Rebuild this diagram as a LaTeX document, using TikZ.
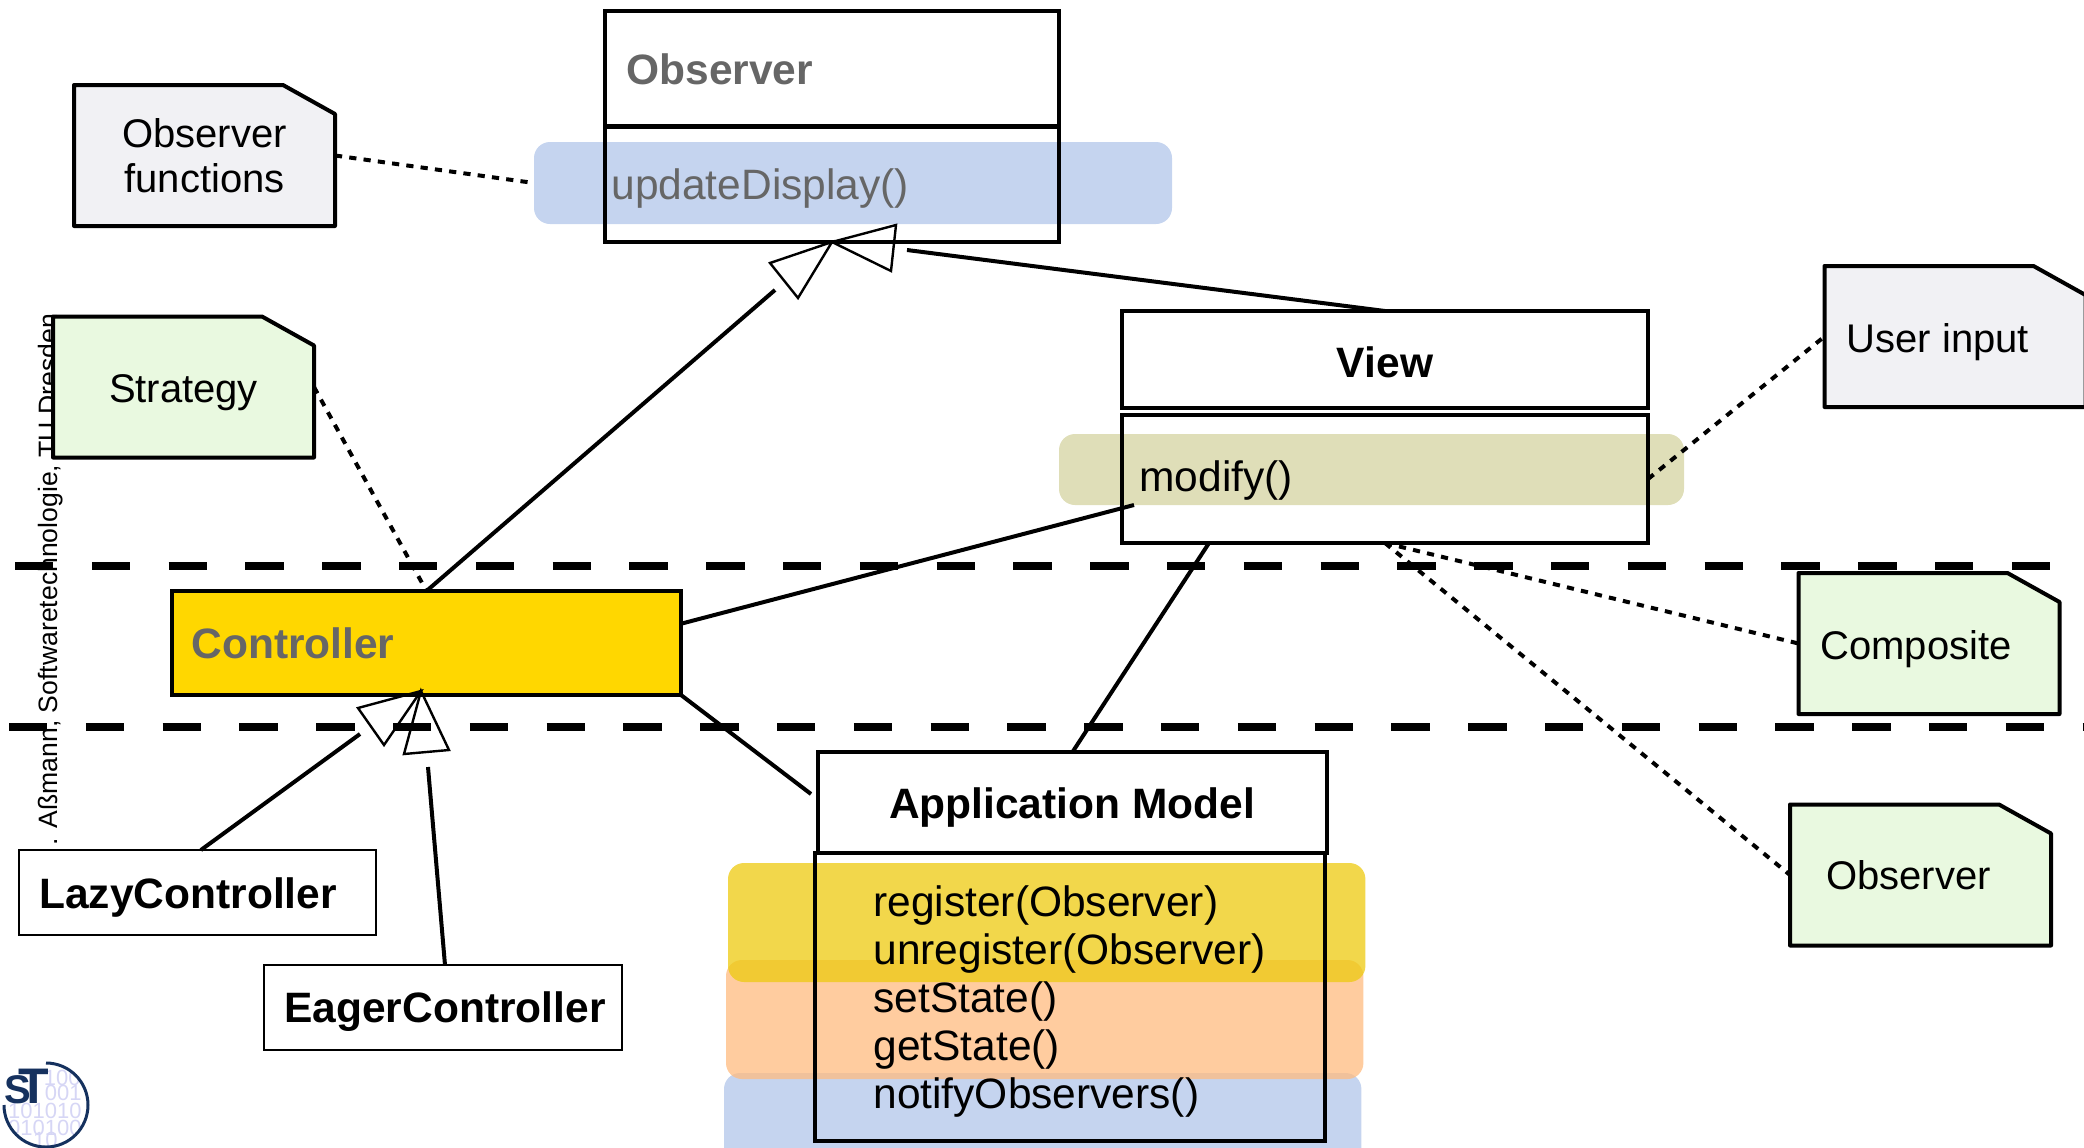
\documentclass[tikz,border=0pt]{standalone}
\usepackage{fontspec}
\setmainfont{Liberation Sans}
\usetikzlibrary{calc}
\definecolor{hlblue}{HTML}{C5D4EF}
\definecolor{hlolive}{HTML}{DFDEB8}
\definecolor{hlorange}{HTML}{FFBB7F}
\definecolor{hlyellow}{HTML}{EDCA0F}
\definecolor{notegray}{HTML}{F1F1F4}
\definecolor{notegreen}{HTML}{E9F9E0}
\definecolor{ctrlgold}{HTML}{FFD700}
\definecolor{textgray}{HTML}{666666}
\definecolor{logonavy}{HTML}{15315E}
\definecolor{logodigit}{HTML}{D6D6F5}
\tikzstyle{umlbox} = [rectangle, anchor=north west, inner sep=0pt, outer sep=0pt, draw=black, line width=2pt]
\tikzstyle{thinbox} = [umlbox, line width=1.4pt]
\tikzstyle{highlight} = [rectangle, anchor=north west, inner sep=0pt, outer sep=0pt, rounded corners=8pt]
\tikzstyle{boldtext} = [anchor=base west, inner sep=0pt, font=\fontsize{21.25}{24}\selectfont\bfseries]
\tikzstyle{methodtext} = [anchor=base west, inner sep=0pt, font=\fontsize{21.25}{24}\selectfont]
\tikzstyle{noteshape} = [rectangle, inner sep=0pt, outer sep=0pt, minimum width=130.5pt, minimum height=70.5pt]
\tikzstyle{notetext} = [align=center, inner sep=0pt, font=\fontsize{20}{22.5}\selectfont]
\tikzstyle{noteline} = [line width=2pt, line join=round]
\tikzstyle{solidline} = [line width=2pt]
\tikzstyle{dottedline} = [line width=2pt, dash pattern=on 3.6pt off 3.6pt]
\tikzstyle{layerline} = [line width=3.7pt, dash pattern=on 19.2pt off 19.2pt]
\tikzstyle{hollowtip} = [line width=1.2pt, line join=miter]
\tikzstyle{digit} = [inner sep=0pt, text=logodigit, font=\fontsize{11}{12}\selectfont]
\newcommand{\notebox}[5]{
  \node (#1) [noteshape] at (#2) {};
  \draw [noteline, fill=#3] (#1.south west) -- (#1.south east) -- ([yshift=-14.5pt]#1.north east) -- ([xshift=-26pt]#1.north east) -- (#1.north west) -- cycle;
  \node (#1text) [notetext, #4] at (#1) {#5};
}
\begin{document}
\begin{tikzpicture}[x=0.5pt, y=-0.5pt]
  \useasboundingbox (0,0) rectangle (2084,1147);
  % highlights behind the classes
  \node (obshl) [highlight, fill=hlblue, minimum width=319pt, minimum height=41pt] at (534,142) {};
  \node (viewhl) [highlight, fill=hlolive, minimum width=312.5pt, minimum height=35.5pt] at (1059,434) {};
  \node (notifyhl) [highlight, fill=hlblue, minimum width=318.7pt, minimum height=60pt] at (724,1073) {};
  \node (statehl) [highlight, fill=hlorange, fill opacity=0.75, minimum width=318.7pt, minimum height=59.5pt] at (726,960) {};
  \node (reghl) [highlight, fill=hlyellow, fill opacity=0.75, minimum width=318.7pt, minimum height=59.5pt] at (728,863) {};
  % side text
  \node (sidetext) [anchor=base west, inner sep=0pt, rotate=90, font=\fontsize{13.3}{15}\selectfont] at (57,846) {. Aßmann, Softwaretechnologie, TU Dresden};
  % classes
  \node (obstitle) [umlbox, minimum width=227pt, minimum height=57.5pt] at (605,11) {};
  \node (obsmethods) [umlbox, minimum width=227pt, minimum height=57.5pt] at (605,127) {};
  \node (obsname) [boldtext, text=textgray] at (626,84) {Observer};
  \node (obsupdate) [methodtext, text=textgray] at (611,199) {updateDisplay()};
  \node (viewtitle) [umlbox, minimum width=263pt, minimum height=48.5pt] at (1122,311) {};
  \node (viewmethods) [umlbox, minimum width=263pt, minimum height=64pt] at (1122,415) {};
  \node (viewname) [boldtext, anchor=base] at (1385,377) {View};
  \node (viewmodify) [methodtext] at (1139,491) {modify()};
  \node (controller) [umlbox, fill=ctrlgold, minimum width=254.5pt, minimum height=52pt] at (172,591) {};
  \node (ctrlname) [boldtext, text=textgray] at (191,658) {Controller};
  \node (apptitle) [umlbox, minimum width=254.5pt, minimum height=50.5pt] at (818,752) {};
  \node (appmethods) [umlbox, minimum width=255pt, minimum height=144pt] at (815,853) {};
  \node (appname) [boldtext, anchor=base] at (1072,818) {Application Model};
  \node (appregister) [methodtext] at (873,916) {register(Observer)};
  \node (appunregister) [methodtext] at (873,964) {unregister(Observer)};
  \node (appset) [methodtext] at (873,1012) {setState()};
  \node (appget) [methodtext] at (873,1060) {getState()};
  \node (appnotify) [methodtext] at (873,1108) {notifyObservers()};
  \node (lazy) [thinbox, minimum width=178.5pt, minimum height=42.5pt] at (19,850) {};
  \node (lazyname) [boldtext] at (39,908) {LazyController};
  \node (eager) [thinbox, minimum width=179pt, minimum height=42.5pt] at (264,965) {};
  \node (eagername) [boldtext] at (284,1022) {EagerController};
  % notes
  \notebox{obsnote}{204.5,155.5}{notegray}{}{Observer\\functions}
  \notebox{strategy}{183.5,387}{notegreen}{yshift=-3pt}{Strategy}
  \notebox{userinput}{1955,336.5}{notegray}{xshift=-8.5pt, yshift=-3pt}{User input}
  \notebox{composite}{1929,643.5}{notegreen}{xshift=-6.5pt, yshift=-3pt}{Composite}
  \notebox{obsnotelow}{1920.5,875}{notegreen}{xshift=-6pt}{Observer}
  % free ends of the connectors
  \coordinate (ctrltail) at (775,290);
  \coordinate (viewtail) at (907,250);
  \coordinate (lazytail) at (360,734);
  \coordinate (eagertail) at (428,767);
  \coordinate (ctrlright) at (680,624);
  \coordinate (modifyleft) at (1134,505);
  \coordinate (viewfoot) at (1209,543);
  \coordinate (appleft) at (811,794);
  \coordinate (ctrltip) at (421,691);
  % connectors
  \draw [solidline] (controller.north) -- (ctrltail);
  \draw [solidline] (viewtitle.north) -- (viewtail);
  \draw [solidline] ([xshift=1.7pt]lazy.north) -- (lazytail);
  \draw [solidline] ([xshift=1pt]eager.north) -- (eagertail);
  \draw [solidline] (ctrlright) -- (modifyleft);
  \draw [solidline] (viewfoot) -- (apptitle.north);
  \draw [solidline] (controller.south east) -- (appleft);
  \draw [dottedline] (obsnote.east) -- (obshl.west);
  \draw [dottedline] (strategy.east) -- (controller.north);
  \draw [dottedline] (viewmethods.east) -- (userinput.west);
  \draw [dottedline] (viewmethods.south) -- (composite.west);
  \draw [dottedline] (viewmethods.south) -- (obsnotelow.west);
  % open triangles
  \draw [hollowtip] (obsmethods.south) -- (770,263) -- (798,298) -- cycle;
  \draw [hollowtip] (obsmethods.south) -- (896,225) -- (891,271) -- cycle;
  \draw [hollowtip] (ctrltip) -- (358,708) -- (384,745) -- cycle;
  \draw [hollowtip] (ctrltip) -- (404,754) -- (449,750) -- cycle;
  % layer borders
  \coordinate (layerastart) at (15,566);
  \coordinate (layeraend) at (2060,566);
  \coordinate (layerbstart) at (9,727);
  \coordinate (layerbend) at (2084,727);
  \draw [layerline] (layerastart) -- (layeraend);
  \draw [layerline] (layerbstart) -- (layerbend);
  % logo
  \begin{scope}
    \clip (46,1105) circle (42);
    \node (digita) [digit, anchor=base east] at (81,1085) {100};
    \node (digitb) [digit, anchor=base east] at (82,1100) {001};
    \node (digitc) [digit, anchor=base east] at (82,1118) {101010};
    \node (digitd) [digit, anchor=base east] at (82,1135) {010100};
    \node (digite) [digit, anchor=base east] at (58,1147) {10};
  \end{scope}
  \draw [logonavy, line width=1.5pt] (46,1063) arc [start angle=-90, end angle=180, radius=42];
  \node (logot) [inner sep=0pt, anchor=base, text=logonavy, font=\fontsize{25}{25}\selectfont\bfseries] at (34,1103) {T};
  \node (logos) [inner sep=0pt, anchor=base, text=logonavy, font=\fontsize{20}{20}\selectfont\bfseries] at (18,1103) {S};
\end{tikzpicture}
\end{document}
